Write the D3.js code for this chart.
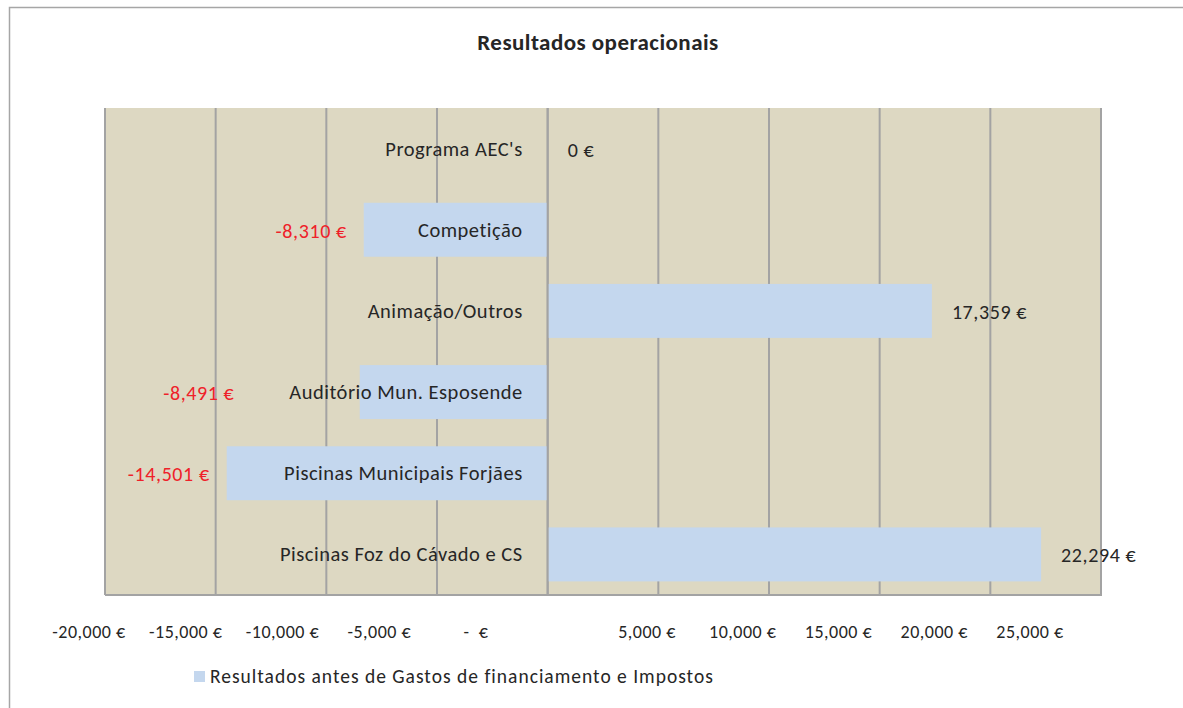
<!DOCTYPE html>
<html lang="pt">
<head>
  <meta charset="UTF-8" />
  <title>Resultados operacionais</title>
  <script src="https://d3js.org/d3.v7.min.js"></script>
  <style>
    body {
      margin: 0;
      background: #fff;
      font-family: Calibri, Carlito, Lato, sans-serif;
    }
    svg { display: block; }
  </style>
</head>
<body>
  <svg width="1183" height="708"></svg>

  <script>
    const chartTitle = "Resultados operacionais";
    const seriesName = "Resultados antes de Gastos de financiamento e Impostos";
    const categories = [
      "Programa AEC's",
      "Competição",
      "Animação/Outros",
      "Auditório Mun. Esposende",
      "Piscinas Municipais Forjães",
      "Piscinas Foz do Cávado e CS"
    ];
    const values = [0, -8310, 17359, -8491, -14501, 22294];
    const tickValues = [-20000, -15000, -10000, -5000, 0, 5000, 10000, 15000, 20000, 25000];

    const svg = d3.select("svg");
    const width = +svg.attr("width");
    const height = +svg.attr("height");

    const plot = { left: 105, right: 1101, top: 108, bottom: 595 };
    const barColor = "#c4d7ee";
    const gridColor = "#a3a3a3";
    const textColor = "#262626";
    const negColor = "#ef2129";

    // number format with plain hyphen minus (d3 default is U+2212)
    const loc = d3.formatLocale({ decimal: ".", thousands: ",", grouping: [3], currency: ["", ""], minus: "-" });
    const fmt = loc.format(",.0f");
    const valueText = v => fmt(v) + "\u00a0€";
    const tickText = v => v === 0 ? "-\u00a0\u00a0€" : fmt(v) + "\u00a0€";

    const x = d3.scaleLinear().domain([-20000, 25000]).range([plot.left, plot.right]);
    const y = d3.scaleBand().domain(categories).range([plot.top, plot.bottom])
      .paddingInner(0.335).paddingOuter(0.1675);
    // the tick labels in the original sit off the gridlines, squeezed towards each side
    const labelX = d3.scaleLinear().domain([-20000, 0, 5000, 25000]).range([89, 476, 647, 1030]);

    // outer chart frame (only left and top edges visible)
    svg.append("path")
      .attr("d", `M9.5,${height} V7.5 H${width}`)
      .attr("fill", "none")
      .attr("stroke", "#a6a6a6")
      .attr("stroke-width", 1.5);

    // title
    svg.append("text")
      .attr("x", 598)
      .attr("y", 50)
      .attr("text-anchor", "middle")
      .attr("font-weight", "bold")
      .attr("font-size", 23)
      .attr("letter-spacing", 0.45)
      .attr("fill", textColor)
      .text(chartTitle);

    // plot background
    svg.append("rect")
      .attr("x", plot.left)
      .attr("y", plot.top)
      .attr("width", plot.right - plot.left)
      .attr("height", plot.bottom - plot.top)
      .attr("fill", "#ddd8c2");

    // vertical gridlines
    svg.selectAll("line.grid")
      .data(tickValues)
      .enter()
      .append("line")
      .attr("class", "grid")
      .attr("x1", d => x(d))
      .attr("x2", d => x(d))
      .attr("y1", plot.top)
      .attr("y2", plot.bottom)
      .attr("stroke", gridColor)
      .attr("stroke-width", 2);

    // bottom axis line
    svg.append("line")
      .attr("x1", plot.left)
      .attr("x2", plot.right + 1)
      .attr("y1", plot.bottom)
      .attr("y2", plot.bottom)
      .attr("stroke", gridColor)
      .attr("stroke-width", 2);

    const rows = categories.map((c, i) => ({ cat: c, value: values[i] }));

    // bars
    svg.selectAll("rect.bar")
      .data(rows)
      .enter()
      .append("rect")
      .attr("class", "bar")
      .attr("x", d => x(Math.min(0, d.value)))
      .attr("width", d => Math.abs(x(d.value) - x(0)))
      .attr("y", d => y(d.cat))
      .attr("height", y.bandwidth())
      .attr("fill", barColor);

    // zero axis line on top of the bars
    svg.append("line")
      .attr("x1", x(0))
      .attr("x2", x(0))
      .attr("y1", plot.top)
      .attr("y2", plot.bottom)
      .attr("stroke", gridColor)
      .attr("stroke-width", 2);

    // category labels, right-aligned just left of zero
    const catLabels = svg.selectAll("text.cat")
      .data(rows)
      .enter()
      .append("text")
      .attr("class", "cat")
      .attr("x", x(0) - 25)
      .attr("y", d => y(d.cat) + y.bandwidth() / 2 + 7)
      .attr("text-anchor", "end")
      .attr("font-size", 20.5)
      .attr("letter-spacing", 0.5)
      .attr("fill", textColor)
      .text(d => d.cat);

    // value labels
    catLabels.each(function (d) {
      const catLeft = x(0) - 25 - this.getComputedTextLength();
      let lx, anchor;
      if (d.value >= 0) {
        lx = x(d.value) + 20;
        anchor = "start";
      } else {
        const barLeft = x(d.value);
        lx = catLeft < barLeft ? catLeft - 55 : barLeft - 17;
        anchor = "end";
      }
      svg.append("text")
        .attr("x", lx)
        .attr("y", y(d.cat) + y.bandwidth() / 2 + 8)
        .attr("text-anchor", anchor)
        .attr("font-size", 20)
        .attr("letter-spacing", 0.6)
        .attr("fill", d.value < 0 ? negColor : textColor)
        .text(valueText(d.value));
    });

    // tick labels
    svg.selectAll("text.tick")
      .data(tickValues)
      .enter()
      .append("text")
      .attr("class", "tick")
      .attr("x", d => labelX(d))
      .attr("y", 638)
      .attr("text-anchor", "middle")
      .attr("font-size", 18)
      .attr("letter-spacing", 0.5)
      .attr("fill", textColor)
      .text(d => tickText(d));

    // legend
    const legend = svg.append("g").attr("transform", "translate(194,671)");
    legend.append("rect")
      .attr("width", 11)
      .attr("height", 11)
      .attr("fill", barColor);
    legend.append("text")
      .attr("x", 16)
      .attr("y", 12)
      .attr("font-size", 19.5)
      .attr("letter-spacing", 1.0)
      .attr("fill", textColor)
      .text(seriesName);
  </script>
</body>
</html>
